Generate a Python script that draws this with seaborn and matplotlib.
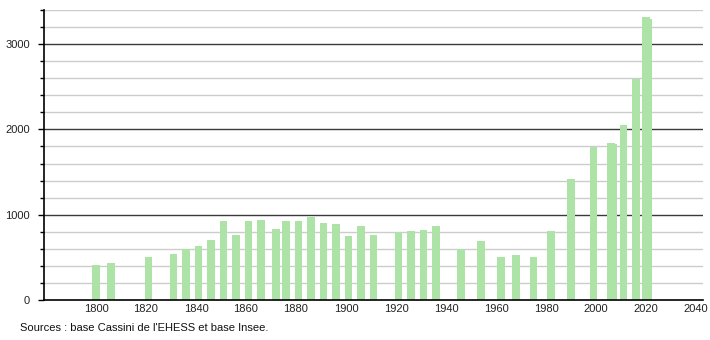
import matplotlib
matplotlib.use("Agg")
import matplotlib.pyplot as plt
import seaborn as sns
import pandas as pd
import numpy as np

years = [1800, 1806, 1821, 1831, 1836, 1841, 1846, 1851, 1856, 1861, 1866,
         1872, 1876, 1881, 1886, 1891, 1896, 1901, 1906, 1911, 1921, 1926,
         1931, 1936, 1946, 1954, 1962, 1968, 1975, 1982, 1990, 1999, 2006,
         2007, 2011, 2016, 2020, 2021]
population = [412, 435, 506, 541, 596, 635, 706, 929, 757, 929, 941,
              835, 925, 925, 972, 906, 894, 753, 871, 757, 796, 812,
              824, 871, 596, 694, 506, 529, 506, 812, 1420, 1796, 1839,
              1827, 2051, 2596, 3315, 3290]
x_ticks = list(range(1800, 2041, 20))
y_labels = [0, 1000, 2000, 3000]
source_text = "Sources : base Cassini de l'EHESS et base Insee."

df = pd.DataFrame({"year": years, "population": population})

sns.set_theme(style="white")
plt.rcParams["font.family"] = ["Liberation Sans", "DejaVu Sans"]

fig = plt.figure(figsize=(7.1, 3.4), dpi=100)
ax = fig.add_axes([44 / 710, 40 / 340, 659 / 710, 290 / 340])

# gridlines
for v in range(200, 3401, 200):
    if v % 1000 == 0:
        ax.axhline(v, color="#3a3a3a", lw=1.0, zorder=0)
    else:
        ax.axhline(v, color="#cccccc", lw=1.0, zorder=0)

sns.barplot(data=df, x="year", y="population", native_scale=True,
            width=3.2, color="#aee3a8", saturation=1, errorbar=None,
            edgecolor="none", linewidth=0, ax=ax, zorder=2)

ax.set_xlim(1779.2, 2042.8)
ax.set_ylim(0, 3400)
ax.set_xticks(x_ticks)
ax.set_xticklabels([str(t) for t in x_ticks], fontsize=8, color="#222222")
ax.set_yticks(y_labels)
ax.set_yticklabels([str(t) for t in y_labels], fontsize=8, color="#222222")
ax.set_yticks(np.arange(0, 3401, 200), minor=True)
ax.tick_params(axis="y", which="major", length=4, width=1, color="black",
               direction="out", pad=6, left=True)
ax.tick_params(axis="y", which="minor", length=3, width=1, color="black",
               direction="out", left=True)
ax.tick_params(axis="x", which="both", length=0, pad=3)
ax.set_xlabel("")
ax.set_ylabel("")

for s in ["top", "right"]:
    ax.spines[s].set_visible(False)
for s in ["left", "bottom"]:
    ax.spines[s].set_visible(True)
    ax.spines[s].set_color("black")
    ax.spines[s].set_linewidth(1.2)

fig.text(20 / 710, 1 - 328 / 340, source_text, fontsize=8, color="#111111",
         va="center", ha="left")

fig.savefig("out.png", dpi=100, facecolor="white")
